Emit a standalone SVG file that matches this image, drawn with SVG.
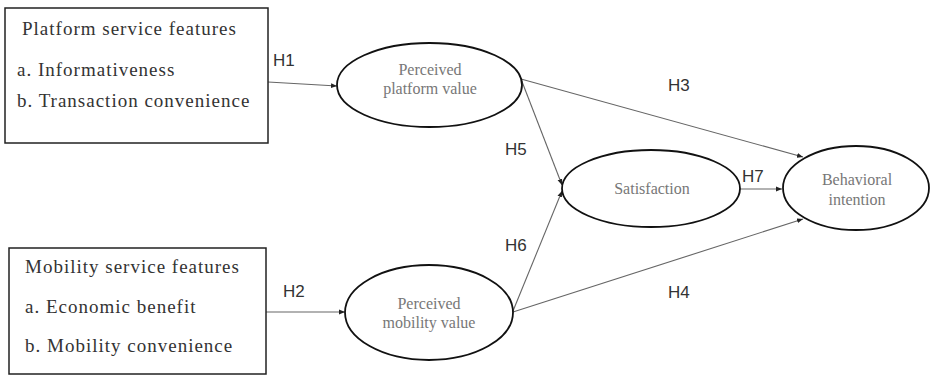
<svg xmlns="http://www.w3.org/2000/svg" width="930" height="375" viewBox="0 0 930 375">
<style>
.box{fill:#fff;stroke:#222;stroke-width:1.5}
.ell{fill:#fff;stroke:#111;stroke-width:1.8}
.bt{font-family:"Liberation Serif",serif;font-size:19px;letter-spacing:1px;fill:#333}
.et{font-family:"Liberation Serif",serif;font-size:16px;fill:#777;text-anchor:middle}
.h{font-family:"Liberation Sans",sans-serif;font-size:17px;fill:#333}
.ln{stroke:#666;stroke-width:1.1;fill:none;marker-end:url(#ah)}
</style>
<defs>
<marker id="ah" viewBox="0 0 10 10" refX="10" refY="5" markerWidth="6" markerHeight="6" markerUnits="userSpaceOnUse" orient="auto">
<path d="M0,1 L10,5 L0,9 z" fill="#222"/>
</marker>
</defs>
<rect width="930" height="375" fill="#fff"/>
<g id="connectors">
<line class="ln" x1="268" y1="82" x2="337" y2="86"/>
<line class="ln" x1="266" y1="312" x2="345" y2="312"/>
<line class="ln" x1="521" y1="79" x2="803" y2="157"/>
<line class="ln" x1="521" y1="79" x2="562" y2="185"/>
<line class="ln" x1="513" y1="311" x2="562" y2="191"/>
<line class="ln" x1="513" y1="312" x2="803" y2="219"/>
<line class="ln" x1="740" y1="189" x2="782" y2="189"/>
<text class="h" x="273" y="66">H1</text>
<text class="h" x="283" y="297">H2</text>
<text class="h" x="668" y="91">H3</text>
<text class="h" x="668" y="298">H4</text>
<text class="h" x="505" y="155">H5</text>
<text class="h" x="505" y="251">H6</text>
<text class="h" x="742" y="182">H7</text>
</g>
<g id="platform-features">
<rect class="box" x="5" y="8" width="263" height="135"/>
<text class="bt" x="22" y="35">Platform service features</text>
<text class="bt" x="17" y="76">a. Informativeness</text>
<text class="bt" x="17" y="107">b. Transaction convenience</text>
</g>
<g id="mobility-features">
<rect class="box" x="9" y="248" width="257" height="126"/>
<text class="bt" x="25" y="273">Mobility service features</text>
<text class="bt" x="25" y="313">a. Economic benefit</text>
<text class="bt" x="25" y="352">b. Mobility convenience</text>
</g>
<g id="platform-value">
<ellipse class="ell" cx="429.5" cy="85" rx="92.5" ry="42"/>
<text class="et" x="430" y="75">Perceived</text>
<text class="et" x="430" y="94">platform value</text>
</g>
<g id="mobility-value">
<ellipse class="ell" cx="429" cy="312.5" rx="84" ry="47.5"/>
<text class="et" x="429" y="309">Perceived</text>
<text class="et" x="429" y="328">mobility value</text>
</g>
<g id="satisfaction">
<ellipse class="ell" cx="651" cy="188.5" rx="89" ry="38.5"/>
<text class="et" x="652" y="194">Satisfaction</text>
</g>
<g id="behavioral-intention">
<ellipse class="ell" cx="856" cy="188" rx="73" ry="42"/>
<text class="et" x="857" y="185">Behavioral</text>
<text class="et" x="857" y="205">intention</text>
</g>
</svg>
